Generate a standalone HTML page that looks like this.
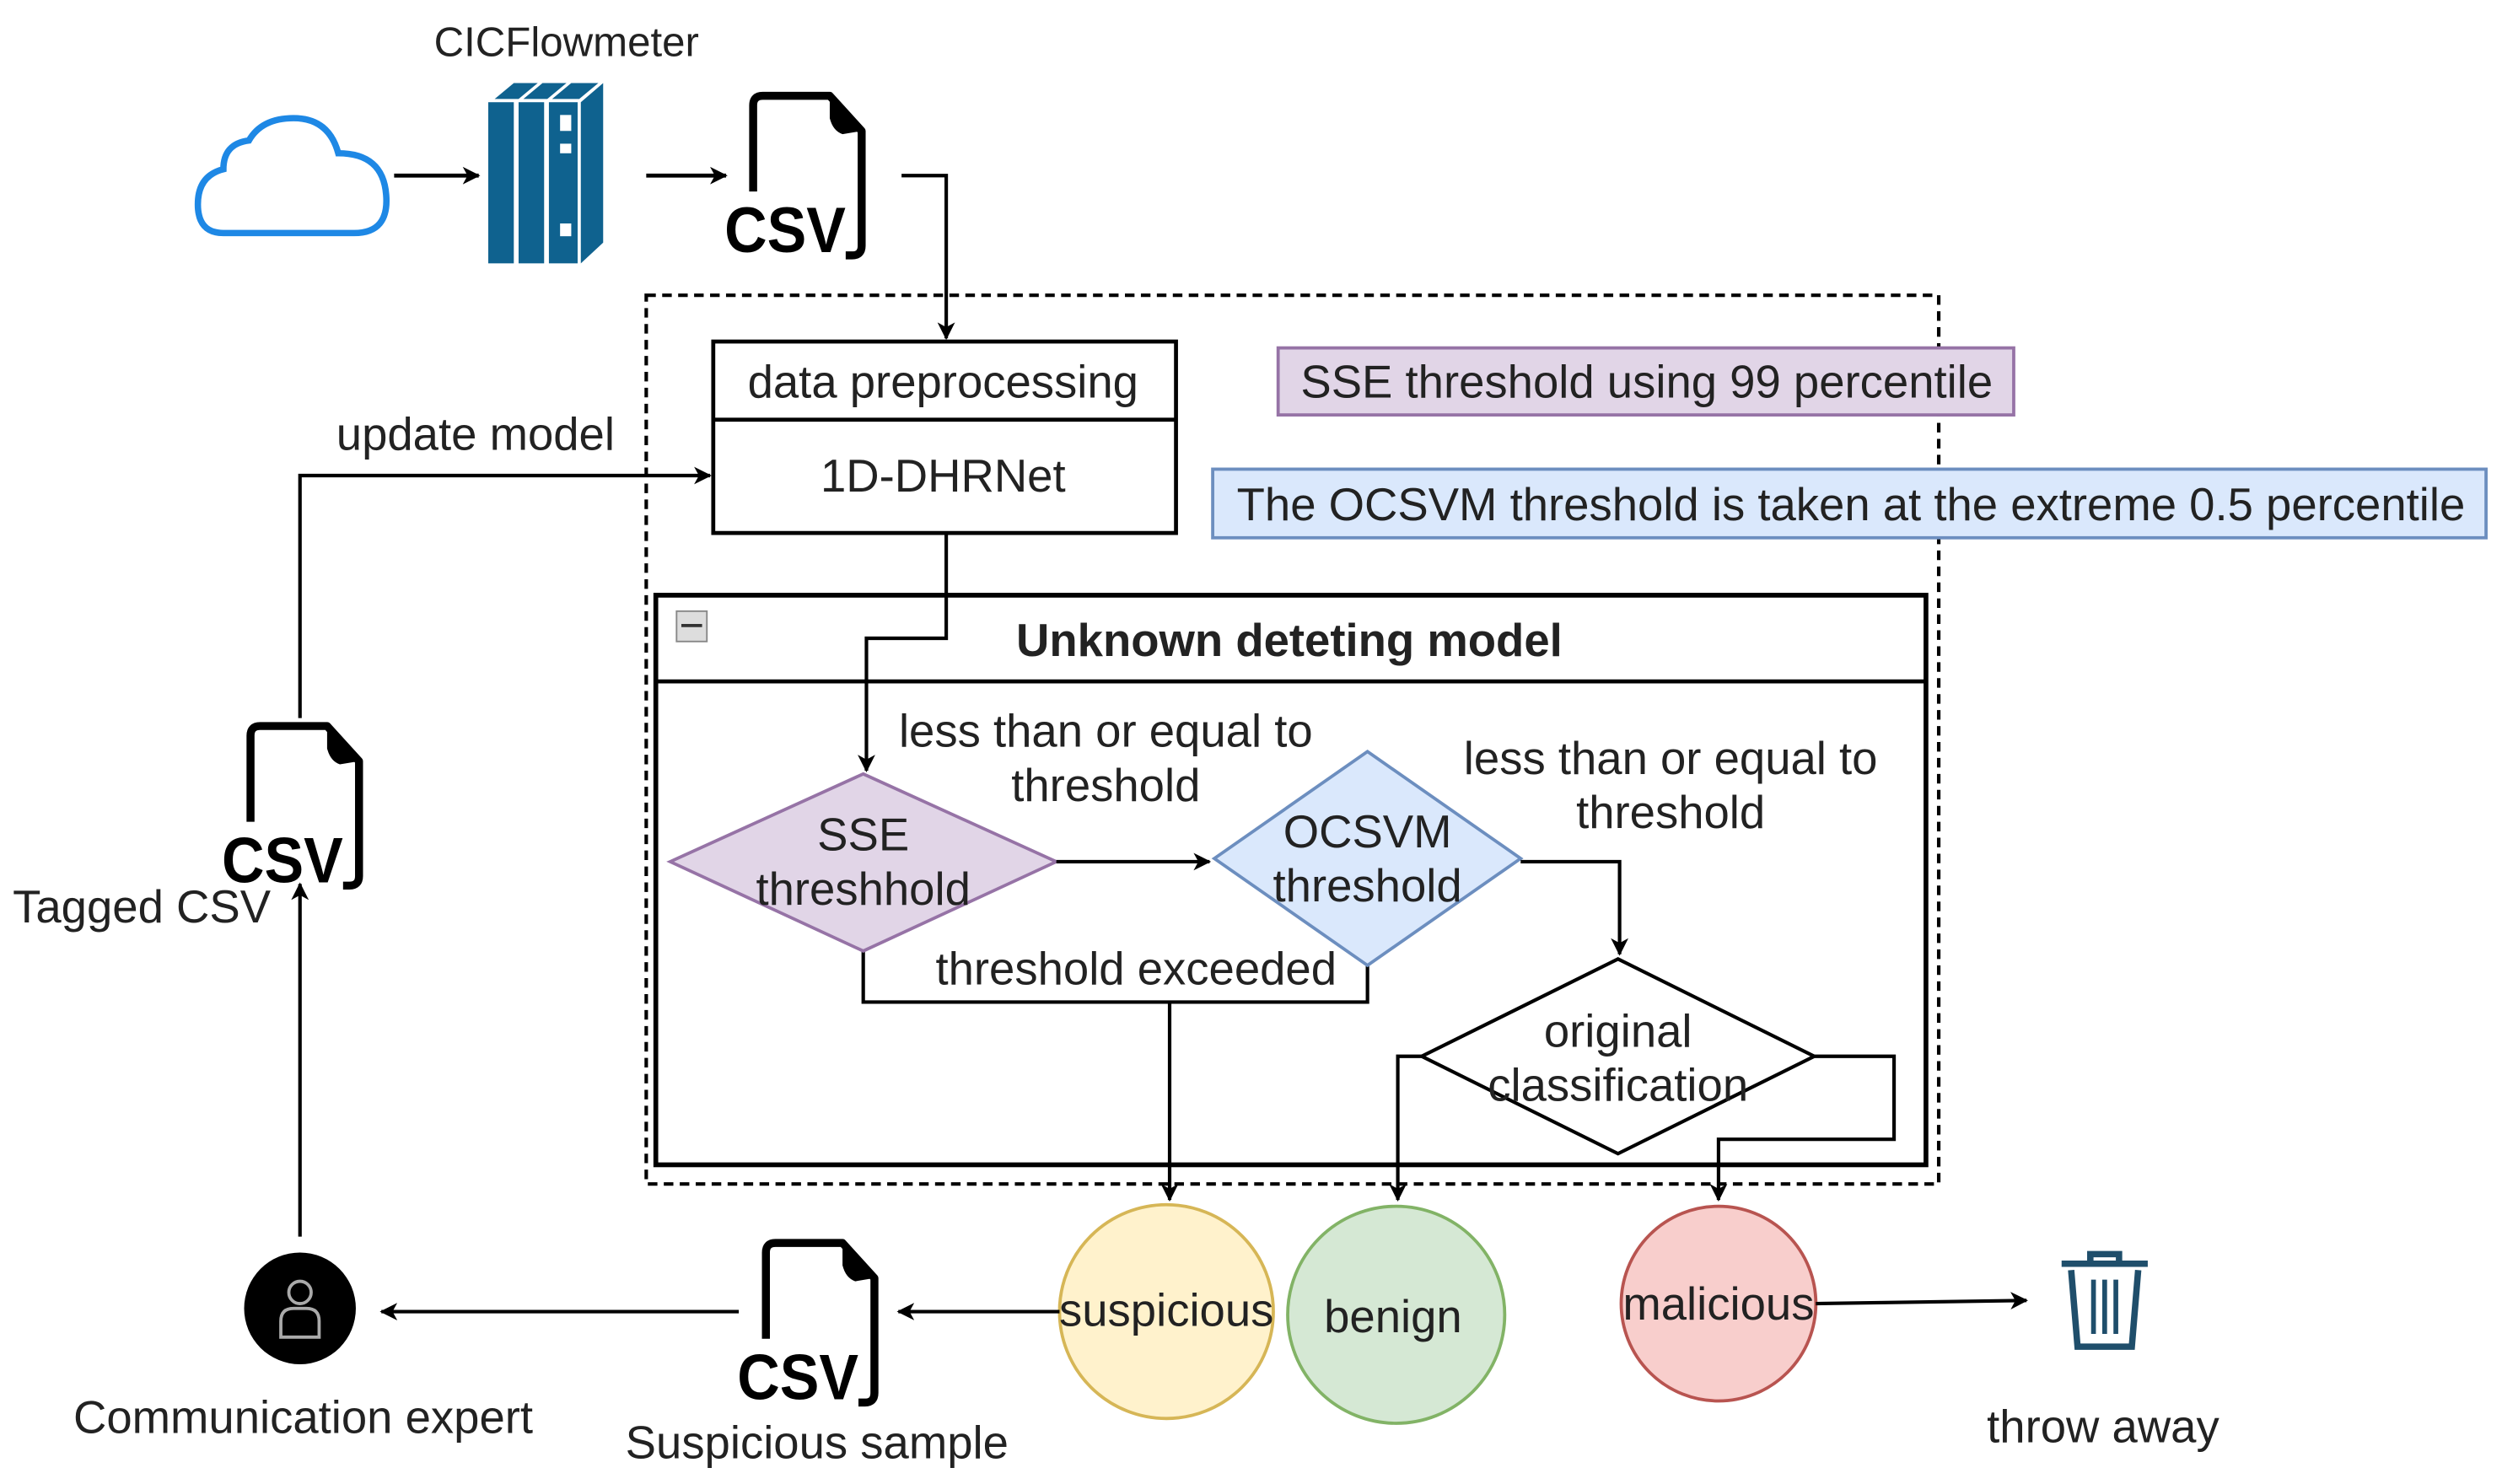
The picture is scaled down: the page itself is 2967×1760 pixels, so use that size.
<!DOCTYPE html>
<html><head><meta charset="utf-8"><style>
html,body{margin:0;padding:0;background:#fff;}
svg{display:block;}
text{font-family:"Liberation Sans",Arial,sans-serif;fill:#222;}
</style></head><body>
<svg width="2967" height="1760" viewBox="0 0 1568 930" xmlns="http://www.w3.org/2000/svg">
<defs>
<marker id="a" markerWidth="11" markerHeight="11" refX="10" refY="5.5" orient="auto" markerUnits="userSpaceOnUse">
<path d="M0,0 L11,5.5 L0,11 L3,5.5 Z" fill="#000"/></marker>
<g id="csv">
<path d="M2,62 V8 Q2,2 8,2 H50 L70,24 V96 Q70,102 64,102 H60" fill="none" stroke="#000" stroke-width="5" stroke-linejoin="round"/>
<path d="M50,2 L70,24 L58,26 Q52,24 50,16 Z" fill="#000"/>
<text x="-16" y="100" font-size="40" font-weight="bold" style="fill:#000" textLength="76" lengthAdjust="spacingAndGlyphs">CSV</text>
</g>
</defs>

<g font-size="28.8">
<!-- top -->
<text x="355" y="35" text-anchor="middle" font-size="26">CICFlowmeter</text>
<path d="M140,146 Q124,146 124,128 Q124,110 140,106 Q140,90 156,88 Q164,74 184,74 Q206,74 212,96 Q240,96 242,122 Q244,146 222,146 Z" fill="none" stroke="#1e88e5" stroke-width="4"/>
<line x1="247" y1="110" x2="300" y2="110" stroke="#000" stroke-width="2.5" marker-end="url(#a)"/>
<!-- server -->
<g fill="#0f628f">
<polygon points="310,62 322,52 337,52 325,62"/><polygon points="328,62 340,52 355,52 343,62"/><polygon points="346,62 358,52 375,52 363,62"/>
<rect x="306" y="64" width="16" height="101"/><rect x="325" y="64" width="16" height="101"/>
<rect x="344" y="64" width="18" height="101"/>
<polygon points="364,64 378,52 378,152 364,165"/>
</g>
<g fill="#fff"><rect x="351" y="72" width="7" height="10"/><rect x="351" y="90" width="7" height="6"/><rect x="351" y="140" width="7" height="8"/></g>
<line x1="405" y1="110" x2="455" y2="110" stroke="#000" stroke-width="2.5" marker-end="url(#a)"/>
<use href="#csv" x="470" y="58"/>
<polyline points="565,110 593,110 593,212" fill="none" stroke="#000" stroke-width="2.2" marker-end="url(#a)"/>

<!-- dashed container -->
<rect x="405" y="185" width="810" height="557" fill="none" stroke="#000" stroke-width="2.2" stroke-dasharray="6,4"/>

<!-- preprocessing box -->
<rect x="447" y="214" width="290" height="120" fill="#fff" stroke="#000" stroke-width="2.5"/>
<line x1="447" y1="263" x2="737" y2="263" stroke="#000" stroke-width="2.5"/>
<text x="591" y="249" text-anchor="middle">data preprocessing</text>
<text x="591" y="308" text-anchor="middle">1D-DHRNet</text>

<rect x="801" y="218" width="461" height="42" fill="#e1d5e7" stroke="#9673a6" stroke-width="2"/>
<text x="1032" y="249" text-anchor="middle">SSE threshold using 99 percentile</text>
<rect x="760" y="294" width="798" height="43" fill="#dae8fc" stroke="#6c8ebf" stroke-width="2"/>
<text x="1160" y="326" text-anchor="middle">The OCSVM threshold is taken at the extreme 0.5 percentile</text>

<!-- unknown model -->
<rect x="411" y="373" width="796" height="357" fill="#fff" stroke="#000" stroke-width="3"/>
<line x1="411" y1="427" x2="1207" y2="427" stroke="#000" stroke-width="2.5"/>
<rect x="424" y="383" width="19" height="19" fill="#ddd" stroke="#888" stroke-width="1"/>
<line x1="427" y1="392" x2="440" y2="392" stroke="#333" stroke-width="2"/>
<text x="808" y="411" font-weight="bold" text-anchor="middle">Unknown deteting model</text>

<polyline points="593,334 593,400 543,400 543,483" fill="none" stroke="#000" stroke-width="2.2" marker-end="url(#a)"/>
<text x="693" y="468" text-anchor="middle">less than or equal to</text>
<text x="693" y="502" text-anchor="middle">threshold</text>

<polyline points="541,596 541,628 857,628 857,605" fill="none" stroke="#000" stroke-width="2.2"/>
<line x1="733" y1="628" x2="733" y2="752" stroke="#000" stroke-width="2.2" marker-end="url(#a)"/>
<text x="712" y="617" text-anchor="middle">threshold exceeded</text>

<polygon points="420,540 541,485 662,540 541,596" fill="#e1d5e7" stroke="#9673a6" stroke-width="2"/>
<text x="541" y="533" text-anchor="middle">SSE</text>
<text x="541" y="567" text-anchor="middle">threshhold</text>
<line x1="662" y1="540" x2="758" y2="540" stroke="#000" stroke-width="2.2" marker-end="url(#a)"/>

<polygon points="761,538 857,471 953,538 857,605" fill="#dae8fc" stroke="#6c8ebf" stroke-width="2"/>
<text x="857" y="531" text-anchor="middle">OCSVM</text>
<text x="857" y="565" text-anchor="middle">threshold</text>

<text x="1047" y="485" text-anchor="middle">less than or equal to</text>
<text x="1047" y="519" text-anchor="middle">threshold</text>
<polyline points="953,540 1015,540 1015,598" fill="none" stroke="#000" stroke-width="2.2" marker-end="url(#a)"/>

<polyline points="891,662 876,662 876,752" fill="none" stroke="#000" stroke-width="2.2" marker-end="url(#a)"/>
<polyline points="1137,662 1187,662 1187,714 1077,714 1077,752" fill="none" stroke="#000" stroke-width="2.2" marker-end="url(#a)"/>
<polygon points="891,662 1014,601 1137,662 1014,723" fill="#fff" stroke="#000" stroke-width="2.2"/>
<text x="1014" y="656" text-anchor="middle">original</text>
<text x="1014" y="690" text-anchor="middle">classification</text>

<!-- circles -->
<circle cx="731" cy="822" r="67" fill="#fff2cc" stroke="#d6b656" stroke-width="2"/>
<text x="731" y="831" text-anchor="middle">suspicious</text>
<circle cx="875" cy="824" r="68" fill="#d5e8d4" stroke="#82b366" stroke-width="2"/>
<text x="873" y="835" text-anchor="middle">benign</text>
<circle cx="1077" cy="817" r="61" fill="#f8cecc" stroke="#b85450" stroke-width="2"/>
<text x="1077" y="827" text-anchor="middle">malicious</text>

<line x1="1138" y1="817" x2="1270" y2="815" stroke="#000" stroke-width="2.2" marker-end="url(#a)"/>
<!-- trash -->
<g fill="none" stroke="#1f4e6b" stroke-width="4">
<line x1="1292" y1="792" x2="1346" y2="792"/>
<path d="M1310,792 V786 H1328 V792"/>
<path d="M1298,796 L1302,844 H1336 L1340,796"/>
<line x1="1312" y1="802" x2="1312" y2="836" stroke-width="3"/><line x1="1319" y1="802" x2="1319" y2="836" stroke-width="3"/><line x1="1326" y1="802" x2="1326" y2="836" stroke-width="3"/>
</g>
<text x="1318" y="904" text-anchor="middle">throw away</text>

<line x1="664" y1="822" x2="563" y2="822" stroke="#000" stroke-width="2.2" marker-end="url(#a)"/>
<use href="#csv" x="478" y="777"/>
<text x="512" y="914" text-anchor="middle">Suspicious sample</text>
<line x1="463" y1="822" x2="239" y2="822" stroke="#000" stroke-width="2.2" marker-end="url(#a)"/>

<circle cx="188" cy="820" r="35" fill="#000"/>
<circle cx="188" cy="810" r="7" fill="none" stroke="#aaa" stroke-width="2"/>
<path d="M176,838 V828 Q176,820 184,820 H192 Q200,820 200,828 V838 Z" fill="none" stroke="#aaa" stroke-width="2"/>
<text x="190" y="898" text-anchor="middle">Communication expert</text>

<line x1="188" y1="775" x2="188" y2="554" stroke="#000" stroke-width="2.2" marker-end="url(#a)"/>
<use href="#csv" x="155" y="453"/>
<text x="8" y="578">Tagged CSV</text>
<polyline points="188,450 188,298 445,298" fill="none" stroke="#000" stroke-width="2.2" marker-end="url(#a)"/>
<text x="298" y="282" text-anchor="middle">update model</text>
</g>
</svg>
</body></html>
